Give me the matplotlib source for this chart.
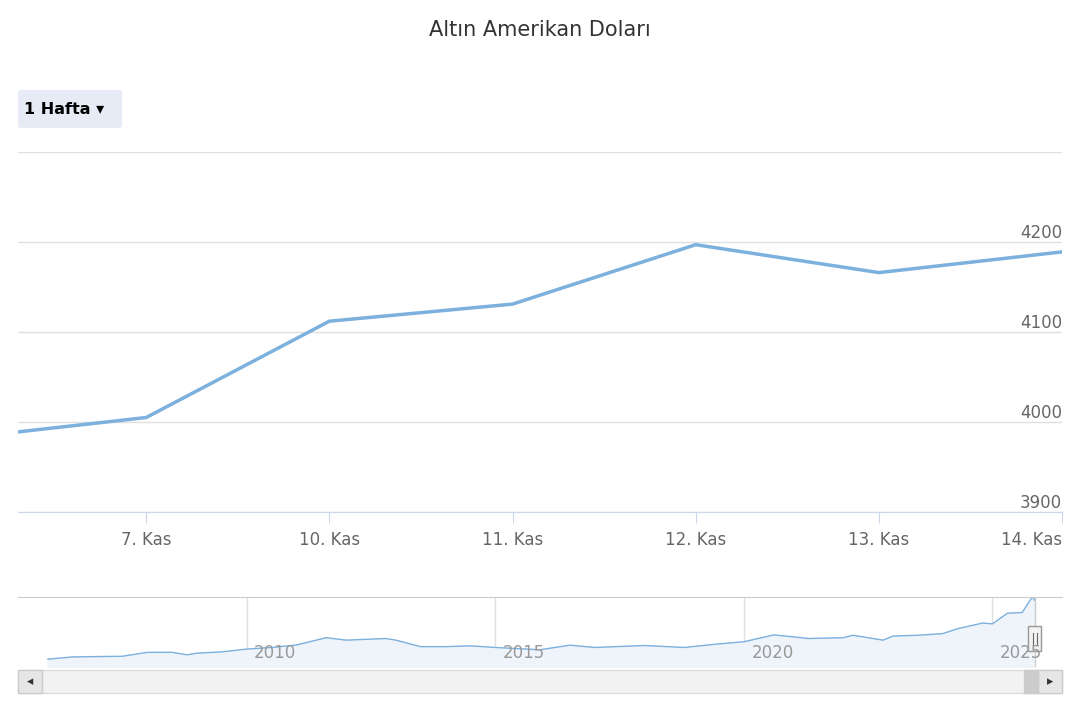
import matplotlib
matplotlib.use("Agg")
import matplotlib.pyplot as plt
from matplotlib.patches import Rectangle, FancyBboxPatch

plt.rcParams['font.family'] = ['DejaVu Sans']

title = "Altın Amerikan Doları"
pos = [-0.7, 0, 1, 2, 3, 4, 5]
prices = [3989, 4005, 4112, 4131, 4197, 4166, 4189]
tick_pos = [0, 1, 2, 3, 4, 5]
tick_labels = ["7. Kas", "10. Kas", "11. Kas", "12. Kas", "13. Kas", "14. Kas"]
y_ticks = [3900, 4000, 4100, 4200, 4300]

nav_years = [2006.0, 2006.5, 2007, 2007.5, 2008, 2008.5, 2008.8, 2009, 2009.5, 2010, 2010.5,
             2011, 2011.6, 2012, 2012.8, 2013, 2013.5, 2014, 2014.5, 2015, 2015.9, 2016.5,
             2017, 2018, 2018.8, 2019.5, 2020, 2020.6, 2021, 2021.3, 2022, 2022.2, 2022.8,
             2023, 2023.5, 2024, 2024.3, 2024.8, 2025, 2025.3, 2025.6, 2025.8, 2025.85]
nav_vals = [480, 620, 640, 660, 900, 900, 750, 850, 930, 1100, 1200, 1350, 1800, 1650, 1750,
            1650, 1250, 1250, 1300, 1200, 1060, 1340, 1200, 1320, 1200, 1420, 1550, 1970, 1850,
            1750, 1800, 1950, 1650, 1900, 1950, 2050, 2350, 2700, 2650, 3300, 3350, 4300, 4100]
nav_ticks = [2010, 2015, 2020, 2025]

line_c = "#7cb0dd"
fig = plt.figure(figsize=(10.8, 7.2), dpi=100)
fig.text(0.5, 1 - 30/720, title, ha='center', va='center', fontsize=15, color='#333333')

fig.patches.append(FancyBboxPatch((18/1080, 1-128/720), 104/1080, 38/720, boxstyle="round,pad=0,rounding_size=0.003",
                                  transform=fig.transFigure, facecolor='#e6ebf5', edgecolor='none'))
fig.text(24/1080, 1-110/720, "1 Hafta ▾", ha='left', va='center', fontsize=11.5, fontweight='bold', color='#000000')

ax = fig.add_axes([18/1080, 1-512/720, 1044/1080, 360/720])
ax.plot(pos, prices, color=line_c, lw=2.5, solid_capstyle='round')
ax.set_xlim(-0.7, 5)
ax.set_ylim(3900, 4300)
for v in y_ticks:
    ax.axhline(v, color='#e0e0e0', lw=1, zorder=0)
    if v < 4300:
        ax.text(1.0, v, str(v), transform=ax.get_yaxis_transform(), ha='right', va='bottom',
                fontsize=12, color='#666666')
ax.set_yticks([])
ax.set_xticks(tick_pos)
ax.set_xticklabels(tick_labels, fontsize=12, color='#666666')
ax.tick_params(axis='x', length=8, color='#ccd6eb', pad=6)
for s in ['top', 'left', 'right']:
    ax.spines[s].set_visible(False)
ax.spines['bottom'].set_color('#ccd6eb')
for lab in ax.get_xticklabels()[-1:]:
    lab.set_ha('right')

nax = fig.add_axes([18/1080, 1-667/720, 1044/1080, 70/720])
nax.fill_between(nav_years, nav_vals, 0, color='#eef4fa', alpha=1)
nax.plot(nav_years, nav_vals, color=line_c, lw=1)
nax.set_xlim(2005.4, 2026.4)
nax.set_ylim(0, 4300)
for t in nav_ticks:
    nax.axvline(t, color='#e0e0e0', lw=1, zorder=0)
    nax.text(t + 0.15, 300, str(t), fontsize=12, color='#999999', va='bottom', ha='left', zorder=7)
nax.set_xticks([]); nax.set_yticks([])
for s in ['left', 'right', 'bottom']:
    nax.spines[s].set_visible(False)
nax.spines['top'].set_color('#cccccc')
nax.axvline(2025.85, color='#cccccc', lw=1)
nax.add_patch(Rectangle((2025.72, 1000), 0.26, 1500, facecolor='#f2f2f2', edgecolor='#999999', lw=1, zorder=5))
nax.plot([2025.81, 2025.81], [1400, 2100], color='#666666', lw=0.8, zorder=6)
nax.plot([2025.89, 2025.89], [1400, 2100], color='#666666', lw=0.8, zorder=6)

fig.patches.append(Rectangle((18/1080, 1-693/720), 1044/1080, 23/720, transform=fig.transFigure,
                             facecolor='#f2f2f2', edgecolor='#dddddd'))
fig.patches.append(Rectangle((18/1080, 1-693/720), 24/1080, 23/720, transform=fig.transFigure,
                             facecolor='#e6e6e6', edgecolor='#cccccc'))
fig.patches.append(Rectangle((1038/1080, 1-693/720), 24/1080, 23/720, transform=fig.transFigure,
                             facecolor='#e6e6e6', edgecolor='#cccccc'))
fig.patches.append(Rectangle((1024/1080, 1-693/720), 14/1080, 23/720, transform=fig.transFigure,
                             facecolor='#cccccc', edgecolor='#cccccc'))
fig.text(30/1080, 1-682/720, "◂", ha='center', va='center', fontsize=9, color='#333333')
fig.text(1050/1080, 1-682/720, "▸", ha='center', va='center', fontsize=9, color='#333333')

fig.savefig("out.png", dpi=100)
